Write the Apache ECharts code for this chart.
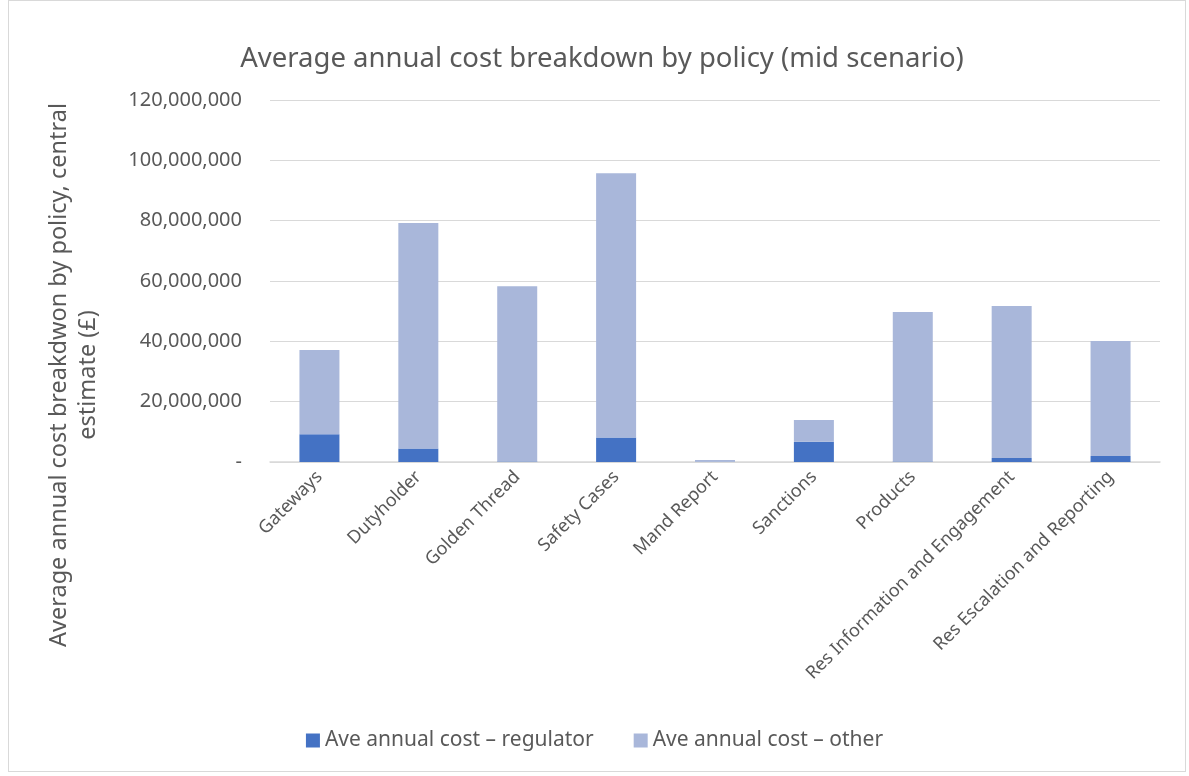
<!DOCTYPE html>
<html><head><meta charset="utf-8">
<script src="https://cdn.jsdelivr.net/npm/echarts@6/dist/echarts.min.js"></script>
<style>
html,body{margin:0;padding:0;background:#fff;}
#wrap{position:absolute;left:8px;top:0px;width:1178px;height:772px;border:1px solid #d9d9d9;box-sizing:border-box;}
#c{position:absolute;left:0;top:0;width:1189px;height:776px;}
</style>
</head><body>
<div id="wrap"></div>
<div id="c"></div>
<script>
const categories = ["Gateways","Dutyholder","Golden Thread","Safety Cases","Mand Report","Sanctions","Products","Res Information and Engagement","Res Escalation and Reporting"];
const regulator = [9200000,4500000,200000,8100000,50000,6700000,200000,1300000,2000000];
const other = [27900000,74700000,58100000,87600000,600000,7200000,49500000,50400000,38100000];
const yTicks = [0,20000000,40000000,60000000,80000000,100000000,120000000];
const yAxisTitle = 'Average annual cost breakdwon by policy, central\nestimate (£)';

const chart = echarts.init(document.getElementById('c'));
const font = 'Noto Sans';
chart.setOption({
  animation:false,
  title:{text:'Average annual cost breakdown by policy (mid scenario)',left:597,top:40,textAlign:'center',
    textStyle:{fontFamily:font,fontSize:27.5,fontWeight:'normal',color:'#595959'}},
  grid:{left:270,right:29,top:100,bottom:314},
  legend:{bottom:20,left:'center',itemWidth:14,itemHeight:14,itemGap:40,icon:'rect',
    textStyle:{fontFamily:font,fontSize:21,color:'#595959'}},
  graphic:[{type:'text',left:'center',x:74,y:375,rotation:Math.PI/2,
    style:{text:yAxisTitle,fill:'#595959',font:'23.5px "Noto Sans"',textAlign:'center',textVerticalAlign:'middle',lineHeight:29},
    position:[74,375],left:null,top:null}],
  xAxis:{type:'category',data:categories,
    axisLine:{lineStyle:{color:'#d9d9d9',width:1.5}},axisTick:{show:false},
    axisLabel:{rotate:45,interval:0,fontFamily:font,fontSize:18,color:'#595959',margin:12}},
  yAxis:{type:'value',min:0,max:120000000,interval:20000000,
    axisLine:{show:false},axisTick:{show:false},
    splitLine:{lineStyle:{color:'#d9d9d9',width:1.2}},
    axisLabel:{fontFamily:font,fontSize:20,color:'#595959',margin:28,
      formatter:v=> v===0?'-':v.toLocaleString('en-GB')}},
  series:[
    {name:'Ave annual cost – regulator',type:'bar',stack:'a',data:regulator,barWidth:40,
      itemStyle:{color:'#4472C4'}},
    {name:'Ave annual cost – other',type:'bar',stack:'a',data:other,barWidth:40,
      itemStyle:{color:'#A9B7DA'}}
  ]
});
</script>
</body></html>
